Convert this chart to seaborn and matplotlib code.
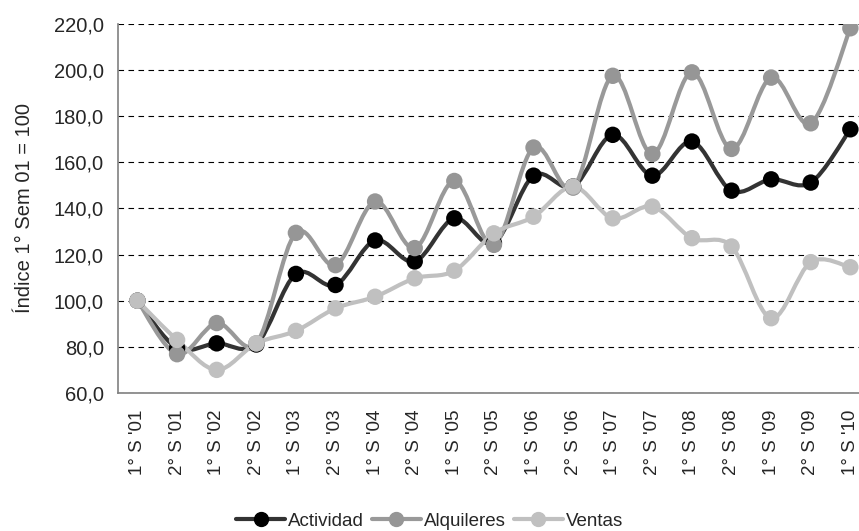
import numpy as np
import pandas as pd
import seaborn as sns
import matplotlib.pyplot as plt
from matplotlib.path import Path
from matplotlib.patches import PathPatch
from matplotlib.lines import Line2D
from matplotlib.ticker import FuncFormatter, MultipleLocator

# Data
periods = ["1° S '01", "2° S '01", "1° S '02", "2° S '02", "1° S '03", "2° S '03",
           "1° S '04", "2° S '04", "1° S '05", "2° S '05", "1° S '06", "2° S '06",
           "1° S '07", "2° S '07", "1° S '08", "2° S '08", "1° S '09", "2° S '09",
           "1° S '10"]
actividad = [100.0, 79.5, 81.5, 81.0, 111.6, 106.8, 126.1, 117.0, 135.7, 125.0,
             154.2, 149.5, 171.9, 154.2, 169.0, 147.7, 152.6, 151.2, 174.3]
alquileres = [100.0, 76.8, 90.3, 81.5, 129.4, 115.4, 143.0, 122.8, 151.9, 124.2,
              166.4, 149.0, 197.5, 163.6, 199.0, 165.8, 196.7, 176.9, 218.1]
ventas = [100.0, 83.0, 70.0, 81.5, 86.9, 96.7, 101.7, 109.7, 113.0, 129.2,
          136.4, 149.5, 135.7, 140.8, 127.1, 123.5, 92.4, 116.7, 114.5]

series_names = ["Actividad", "Alquileres", "Ventas"]
line_colors = {"Actividad": "#333333", "Alquileres": "#999999", "Ventas": "#c0c0c0"}
marker_colors = {"Actividad": "#000000", "Alquileres": "#969696", "Ventas": "#c0c0c0"}

df = pd.DataFrame({"periodo": periods, "Actividad": actividad,
                   "Alquileres": alquileres, "Ventas": ventas})
df["x"] = np.arange(len(df))
long_df = df.melt(id_vars=["periodo", "x"], value_vars=series_names,
                  var_name="serie", value_name="indice")

sns.set_style("white")
plt.rcParams["font.family"] = ["Liberation Sans", "DejaVu Sans"]


def smooth_path(xs, ys):
    # Excel-style smoothed line: cubic bezier through the points
    pts = np.column_stack([xs, ys])
    n = len(pts)
    verts = [pts[0]]
    codes = [Path.MOVETO]
    for i in range(n - 1):
        p0 = pts[max(i - 1, 0)]
        p1 = pts[i]
        p2 = pts[i + 1]
        p3 = pts[min(i + 2, n - 1)]
        c1 = p1 + (p2 - p0) / 6.0
        c2 = p2 - (p3 - p1) / 6.0
        verts += [c1, c2, p2]
        codes += [Path.CURVE4] * 3
    return Path(verts, codes)


fig = plt.figure(figsize=(8.59, 5.31), dpi=100)
ax = fig.add_axes([0.137, 0.26, 0.876, 0.695])

for name in series_names:
    sub = long_df[long_df["serie"] == name]
    patch = PathPatch(smooth_path(sub["x"].values, sub["indice"].values),
                      facecolor="none", edgecolor=line_colors[name], lw=3.0,
                      capstyle="round", joinstyle="round", zorder=3)
    ax.add_patch(patch)
    sns.scatterplot(data=sub, x="x", y="indice", color=marker_colors[name],
                    s=140, edgecolor="none", ax=ax, zorder=4, legend=False)

ax.set_xlim(-0.5, len(periods) - 0.5)
ax.set_ylim(60, 220)
ax.yaxis.set_major_locator(MultipleLocator(20))
ax.yaxis.set_major_formatter(FuncFormatter(lambda v, p: f"{v:.1f}".replace(".", ",")))
ax.grid(axis="y", color="black", linestyle=(0, (5, 4)), lw=0.8)
ax.set_axisbelow(True)

ax.set_xticks(df["x"])
ax.set_xticklabels(periods, rotation=90, fontsize=13.5)
ax.set_xticks(np.arange(-0.5, len(periods), 1), minor=True)
ax.tick_params(axis="x", which="major", length=0, pad=12)
ax.tick_params(axis="x", which="minor", length=6, width=1, color="#808080", direction="out")
ax.tick_params(axis="y", length=6, width=1, color="#808080", direction="out",
               labelsize=14.5, pad=4)

ax.set_xlabel("")
ax.set_ylabel("Índice 1° Sem 01 = 100", fontsize=14.5, labelpad=14)

for side in ["top", "right"]:
    ax.spines[side].set_visible(False)
for side in ["left", "bottom"]:
    ax.spines[side].set_color("#808080")
    ax.spines[side].set_linewidth(1.2)

handles = [Line2D([0], [0], color=line_colors[n], lw=3.0, marker="o",
                  markersize=10, markerfacecolor=marker_colors[n],
                  markeredgecolor=marker_colors[n]) for n in series_names]
fig.legend(handles, series_names, loc="lower center", ncol=3, frameon=False,
           fontsize=13.5, handlelength=2.6, handletextpad=0.15, columnspacing=0.45,
           bbox_to_anchor=(0.5, -0.03))

fig.savefig("out.png", dpi=100)
